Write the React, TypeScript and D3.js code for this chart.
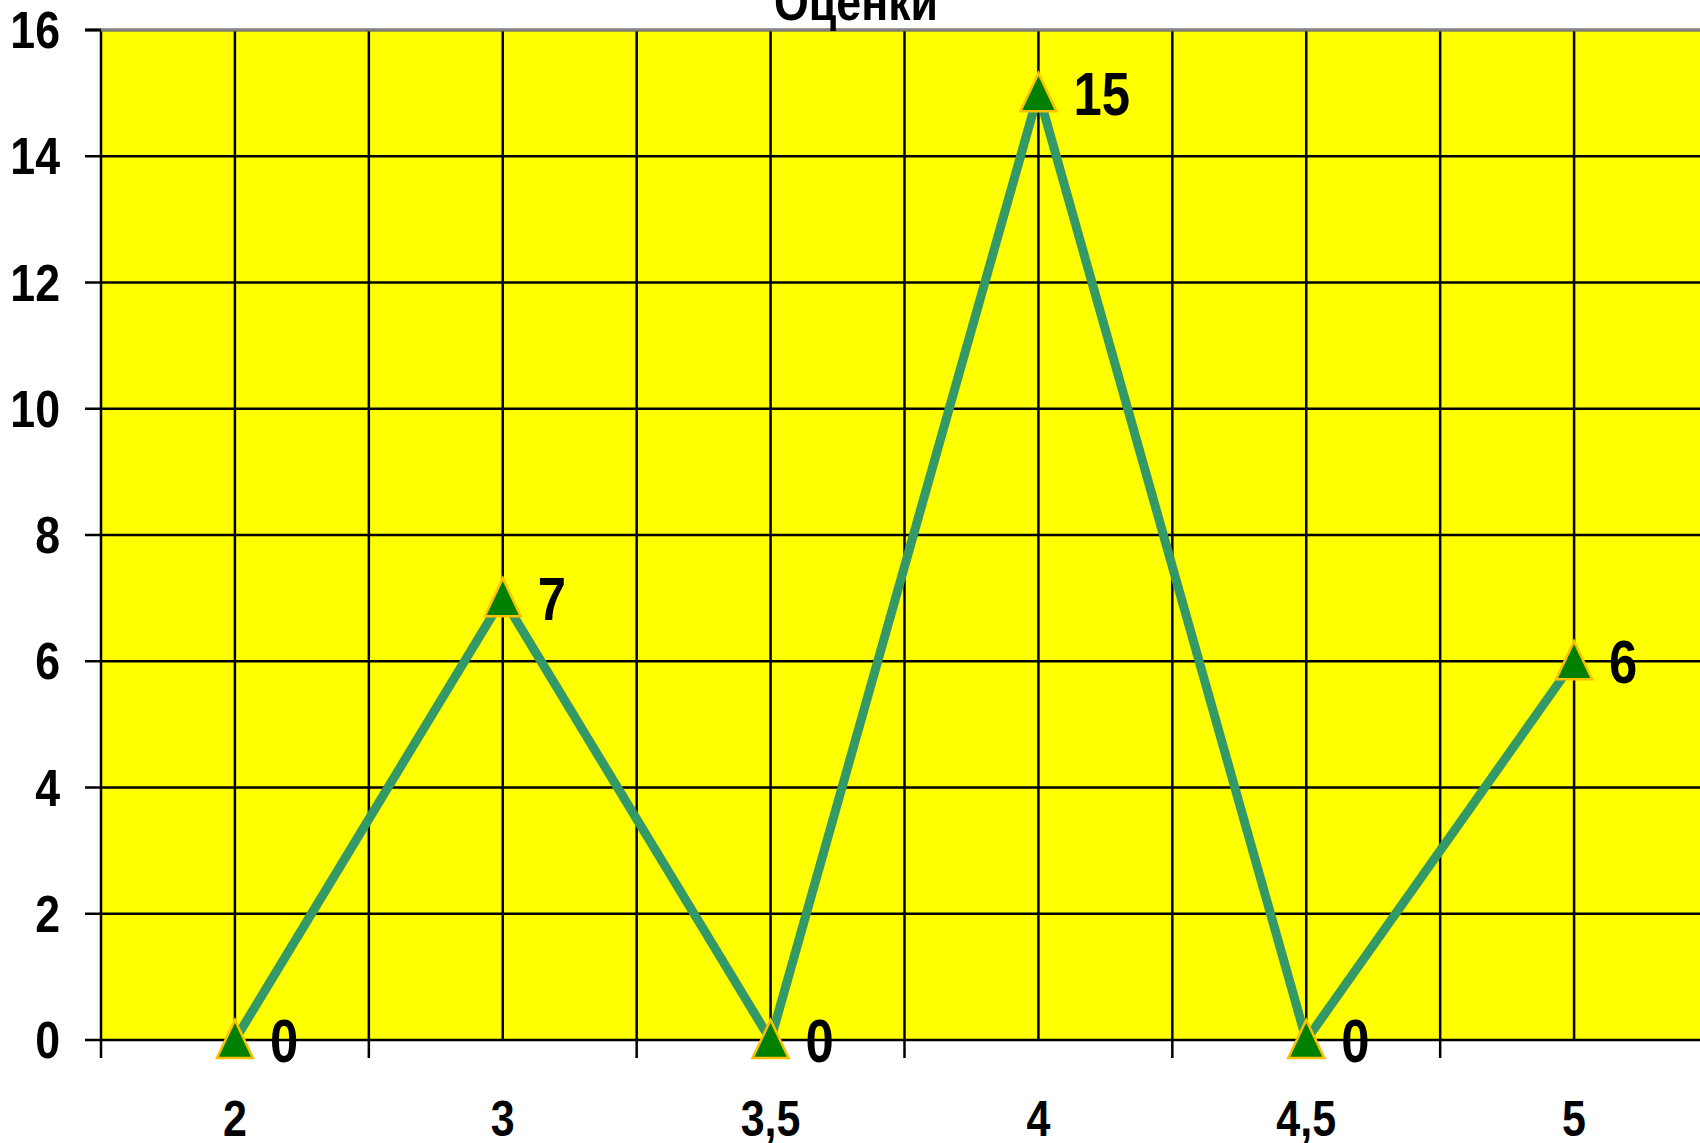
import React, { useRef, useEffect } from 'react';
import * as d3 from 'd3';

const categories = ['2', '3', '3,5', '4', '4,5', '5'];
const counts = [0, 7, 0, 15, 0, 6];
const yTicks = [0, 2, 4, 6, 8, 10, 12, 14, 16];
const title = 'Оценки';

const FONT = '"Liberation Sans", Arial, sans-serif';
// no narrow face installed, squeeze the regular bold one instead
const SQ = 0.86;
const SQ_LABEL = 0.82;

const App = () => {
  const ref = useRef<SVGSVGElement | null>(null);

  useEffect(() => {
    document.body.style.margin = '0';
    if (!ref.current) return;
    const svg = d3.select(ref.current);
    svg.selectAll('*').remove();

    const width = 1700;
    const height = 1143;
    const left = 101;
    const right = 1708;
    const top = 30;
    const bottom = 1040;

    const x = d3.scaleBand<string>().domain(categories).range([left, right]).padding(0);
    const y = d3.scaleLinear().domain([0, 16]).range([bottom, top]);
    const cx = (c: string) => (x(c) as number) + x.bandwidth() / 2;
    const at = (px: number, py: number, s = SQ) => `translate(${px},${py}) scale(${s},1)`;

    svg.attr('width', width).attr('height', height);

    // plot area
    svg.append('rect')
      .attr('x', left).attr('y', top)
      .attr('width', right - left).attr('height', bottom - top)
      .attr('fill', '#ffff00');

    // horizontal grid
    svg.append('g').selectAll('line')
      .data(yTicks)
      .join('line')
        .attr('x1', left - 16).attr('x2', right)
        .attr('y1', d => y(d)).attr('y2', d => y(d))
        .attr('stroke', '#000')
        .attr('stroke-width', 2.5);

    // vertical grid: band edges and band centers
    const edges = categories.map(c => x(c) as number).concat([right]);
    const centers = categories.map(cx);
    svg.append('g').selectAll('line')
      .data(edges)
      .join('line')
        .attr('x1', d => d).attr('x2', d => d)
        .attr('y1', top).attr('y2', bottom + 18)
        .attr('stroke', '#000').attr('stroke-width', 2.5);
    svg.append('g').selectAll('line')
      .data(centers)
      .join('line')
        .attr('x1', d => d).attr('x2', d => d)
        .attr('y1', top).attr('y2', bottom)
        .attr('stroke', '#000').attr('stroke-width', 2.5);

    // top border
    svg.append('line')
      .attr('x1', left).attr('x2', right)
      .attr('y1', top).attr('y2', top)
      .attr('stroke', '#808080').attr('stroke-width', 3);
    svg.append('line')
      .attr('x1', left - 16).attr('x2', left)
      .attr('y1', top).attr('y2', top)
      .attr('stroke', '#000').attr('stroke-width', 3);

    // y labels
    svg.append('g').selectAll('text')
      .data(yTicks)
      .join('text')
        .attr('transform', d => at(60, y(d) + 18))
        .attr('text-anchor', 'end')
        .attr('font-family', FONT).attr('font-weight', 'bold').attr('font-size', 52)
        .text(d => d);

    // x labels
    svg.append('g').selectAll('text')
      .data(categories)
      .join('text')
        .attr('transform', d => at(cx(d), 1136))
        .attr('text-anchor', 'middle')
        .attr('font-family', FONT).attr('font-weight', 'bold').attr('font-size', 50)
        .text(d => d);

    // title
    svg.append('text')
      .attr('transform', at(856, 20))
      .attr('text-anchor', 'middle')
      .attr('font-family', FONT).attr('font-weight', 'bold').attr('font-size', 52)
      .text(title);

    const pts = categories.map((c, i) => ({ c, v: counts[i] }));

    const line = d3.line<{ c: string; v: number }>()
      .x(d => cx(d.c))
      .y(d => y(d.v));

    svg.append('path')
      .datum(pts)
      .attr('d', line)
      .attr('fill', 'none')
      .attr('stroke', '#339966')
      .attr('stroke-width', 9)
      .attr('stroke-linejoin', 'miter');

    svg.append('g').selectAll('path')
      .data(pts)
      .join('path')
        .attr('transform', d => `translate(${cx(d.c)},${y(d.v)})`)
        .attr('d', 'M0,-20L18,18L-18,18Z')
        .attr('fill', '#008000')
        .attr('stroke', '#ffc000')
        .attr('stroke-width', 2.5);

    svg.append('g').selectAll('text')
      .data(pts)
      .join('text')
        .attr('transform', d => at(cx(d.c) + 35, y(d.v) + 22, SQ_LABEL))
        .attr('font-family', FONT).attr('font-weight', 'bold').attr('font-size', 62)
        .text(d => d.v);
  }, []);

  return <svg ref={ref} style={{ display: 'block' }} />;
};

export default App;
